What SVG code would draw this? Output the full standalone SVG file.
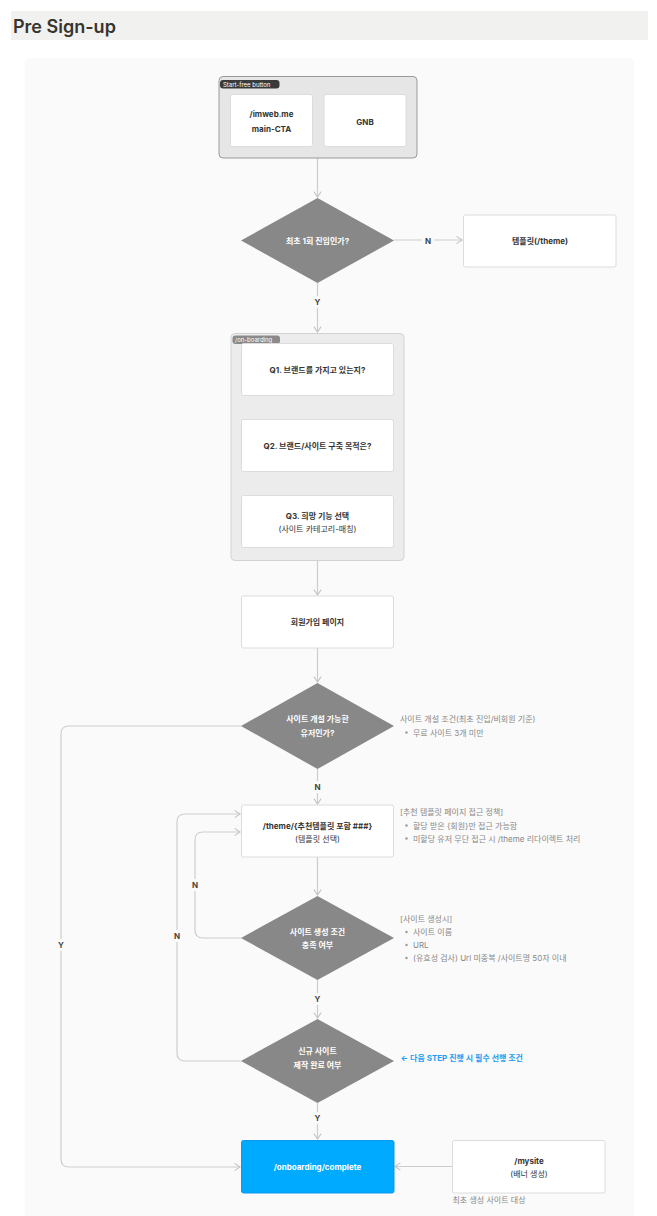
<svg xmlns="http://www.w3.org/2000/svg" width="657" height="1216" viewBox="0 0 657 1216">
<style>
text{font-family:"Inter","Noto Sans CJK KR",sans-serif;dominant-baseline:central}
.t{font-size:8px;font-weight:700;fill:#333;text-anchor:middle}
.tn{font-size:8px;font-weight:400;fill:#333;text-anchor:middle}
.tw{font-size:8px;font-weight:700;fill:#fff;text-anchor:middle}
.box{fill:#fff;stroke:#dcdcdc;stroke-width:1}
.dia{fill:#888}
.ann{font-size:8px;fill:#888}
.lbl{font-size:8px;font-weight:700;fill:#444;text-anchor:middle}
.conn{fill:none;stroke:#cdcdcd;stroke-width:1.2}
.lbg{fill:#fafafa}
.bul{fill:#999}
</style>
<defs>
<marker id="arr" viewBox="0 0 10 10" refX="9" refY="5" markerWidth="9" markerHeight="9" markerUnits="userSpaceOnUse" orient="auto">
<path d="M3,1 L9,5 L3,9" fill="none" stroke="#c4c4c4" stroke-width="1.2"/>
</marker>
</defs>
<g id="header">
<rect x="11" y="11" width="637" height="29" fill="#f1f1ef"/>
<text x="13" y="26" font-size="18" font-weight="600" fill="#37352f" style="font-family:Inter,'Noto Sans CJK KR',sans-serif">Pre Sign-up</text>
</g>
<rect id="canvas" x="25" y="58" width="609" height="1170" rx="4" fill="#fafafa"/>

<g id="connectors">
<path class="conn" d="M317.5,158 V197" marker-end="url(#arr)"/>
<path class="conn" d="M394,240 H462" marker-end="url(#arr)"/>
<rect class="lbg" x="422" y="234" width="12" height="12"/>
<text class="lbl" x="428" y="240.5">N</text>
<path class="conn" d="M317.5,283 V332" marker-end="url(#arr)"/>
<rect class="lbg" x="312" y="296" width="11" height="12"/>
<text class="lbl" x="317.5" y="302">Y</text>
<path class="conn" d="M317.5,396 V419" marker-end="url(#arr)"/>
<path class="conn" d="M317.5,472 V495" marker-end="url(#arr)"/>
<path class="conn" d="M317.5,561 V595" marker-end="url(#arr)"/>
<path class="conn" d="M317.5,648 V682" marker-end="url(#arr)"/>
<path class="conn" d="M317.5,769 V804" marker-end="url(#arr)"/>
<rect class="lbg" x="312" y="781" width="11" height="12"/>
<text class="lbl" x="317.5" y="787">N</text>
<path class="conn" d="M317.5,857 V895" marker-end="url(#arr)"/>
<path class="conn" d="M317.5,980 V1018" marker-end="url(#arr)"/>
<rect class="lbg" x="312" y="993" width="11" height="12"/>
<text class="lbl" x="317.5" y="999">Y</text>
<path class="conn" d="M317.5,1103 V1139" marker-end="url(#arr)"/>
<rect class="lbg" x="312" y="1112" width="11" height="12"/>
<text class="lbl" x="317.5" y="1118">Y</text>
<path class="conn" d="M241,726 H69 Q61,726 61,734 V1159 Q61,1167 69,1167 H240" marker-end="url(#arr)"/>
<rect class="lbg" x="55" y="939" width="12" height="12"/>
<text class="lbl" x="61" y="945">Y</text>
<path class="conn" d="M241,938 H203 Q195,938 195,930 V840 Q195,832 203,832 H240" marker-end="url(#arr)"/>
<rect class="lbg" x="189" y="879" width="12" height="12"/>
<text class="lbl" x="195" y="885">N</text>
<path class="conn" d="M241,1061 H185 Q177,1061 177,1053 V822 Q177,814 185,814 H240" marker-end="url(#arr)"/>
<rect class="lbg" x="171" y="930" width="12" height="12"/>
<text class="lbl" x="177" y="936">N</text>
<path class="conn" d="M452,1166.5 H395" marker-end="url(#arr)"/>
</g>

<g id="start-free">
<rect x="219" y="76.5" width="198" height="81.5" rx="4" fill="#e6e6e6" stroke="#9a9a9a"/>
<rect x="220" y="80" width="59.5" height="8.5" rx="3" fill="#3a3a3a"/>
<text x="223" y="84.3" font-size="6" fill="#fff">Start-free button</text>
</g>
<g id="imweb-cta">
<rect class="box" x="230.5" y="94.5" width="82" height="52" rx="2"/>
<text class="t" x="271.5" y="114">/imweb.me</text>
<text class="t" x="271.5" y="128.5">main-CTA</text>
</g>
<g id="gnb">
<rect class="box" x="324" y="94.5" width="82" height="52" rx="2"/>
<text class="t" x="365" y="121.5">GNB</text>
</g>

<g id="first-visit">
<polygon class="dia" points="317.5,198 394,240.5 317.5,283 241,240.5"/>
<text class="tw" x="317.5" y="240.5">최초 1회 진입인가?</text>
</g>
<g id="theme">
<rect class="box" x="463.5" y="215" width="152.5" height="52" rx="2"/>
<text class="t" x="540" y="241">템플릿(/theme)</text>
</g>

<g id="on-boarding">
<rect x="231" y="333.5" width="173" height="227" rx="4" fill="#ececec" stroke="#d2d2d2"/>
<rect x="232.5" y="335.5" width="47.5" height="8.5" rx="3" fill="#8a8a8a"/>
<text x="235" y="339.8" font-size="6" fill="#fff">/on-boarding</text>
</g>
<g id="q1">
<rect class="box" x="241.5" y="343.5" width="152" height="52" rx="2"/>
<text class="t" x="317.5" y="370">Q1. 브랜드를 가지고 있는지?</text>
</g>
<g id="q2">
<rect class="box" x="241.5" y="419.5" width="152" height="52" rx="2"/>
<text class="t" x="317.5" y="445.5">Q2. 브랜드/사이트 구축 목적은?</text>
</g>
<g id="q3">
<rect class="box" x="241.5" y="495.5" width="152" height="52" rx="2"/>
<text class="t" x="317.5" y="516">Q3. 희망 기능 선택</text>
<text class="tn" x="317.5" y="528.5">(사이트 카테고리-매칭)</text>
</g>

<g id="signup">
<rect class="box" x="241.5" y="596" width="152" height="52" rx="2"/>
<text class="t" x="317.5" y="622">회원가입 페이지</text>
</g>

<g id="can-create">
<polygon class="dia" points="317.5,683 394,726 317.5,769 241,726"/>
<text class="tw" x="317.5" y="719">사이트 개설 가능한</text>
<text class="tw" x="317.5" y="732.5">유저인가?</text>
</g>
<g id="note-create-cond">
<text class="ann" x="400" y="719">사이트 개설 조건(최초 진입/비회원 기준)</text>
<circle class="bul" cx="406.5" cy="732.5" r="1.2"/>
<text class="ann" x="413" y="732.5">무료 사이트 3개 미만</text>
</g>

<g id="theme-recommend">
<rect class="box" x="241.5" y="805" width="152" height="52" rx="2"/>
<text class="t" x="317.5" y="825.5">/theme/{추천템플릿 포함 ###}</text>
<text class="tn" x="317.5" y="838.5">(템플릿 선택)</text>
</g>
<g id="note-theme-policy">
<text class="ann" x="400" y="812">[추천 템플릿 페이지 접근 정책]</text>
<circle class="bul" cx="406.5" cy="825.5" r="1.2"/>
<text class="ann" x="413" y="825.5">할당 받은 {회원}만 접근 가능함</text>
<circle class="bul" cx="406.5" cy="838.5" r="1.2"/>
<text class="ann" x="413" y="838.5">미할당 유저 무단 접근 시 /theme 리다이렉트 처리</text>
</g>

<g id="site-cond">
<polygon class="dia" points="317.5,896 394,938 317.5,980 241,938"/>
<text class="tw" x="317.5" y="931.5">사이트 생성 조건</text>
<text class="tw" x="317.5" y="945">충족 여부</text>
</g>
<g id="note-site-create">
<text class="ann" x="400" y="919">[사이트 생성시]</text>
<circle class="bul" cx="406.5" cy="932" r="1.2"/>
<text class="ann" x="413" y="932">사이트 이름</text>
<circle class="bul" cx="406.5" cy="945" r="1.2"/>
<text class="ann" x="413" y="945">URL</text>
<circle class="bul" cx="406.5" cy="958" r="1.2"/>
<text class="ann" x="413" y="958">(유효성 검사) Url 미중복 /사이트명 50자 이내</text>
</g>

<g id="site-done">
<polygon class="dia" points="317.5,1019 394,1061 317.5,1103 241,1061"/>
<text class="tw" x="317.5" y="1051">신규 사이트</text>
<text class="tw" x="317.5" y="1064.5">제작 완료 여부</text>
</g>
<g id="note-next-step">
<text x="400.5" y="1058" font-size="8" font-weight="700" fill="#1e9df2">← 다음 STEP 진행 시 필수 선행 조건</text>
</g>

<g id="complete">
<rect x="241.5" y="1140.5" width="152.5" height="52.5" rx="2" fill="#00aaff" stroke="#0a98e8"/>
<text class="tw" x="317.5" y="1167">/onboarding/complete</text>
</g>
<g id="mysite">
<rect class="box" x="452.5" y="1140.5" width="152.5" height="52.5" rx="2" stroke-width="1.2"/>
<text class="t" x="529" y="1161">/mysite</text>
<text class="tn" x="529" y="1174">(배너 생성)</text>
<text class="ann" x="452.5" y="1199.5">최초 생성 사이트 대상</text>
</g>
</svg>
